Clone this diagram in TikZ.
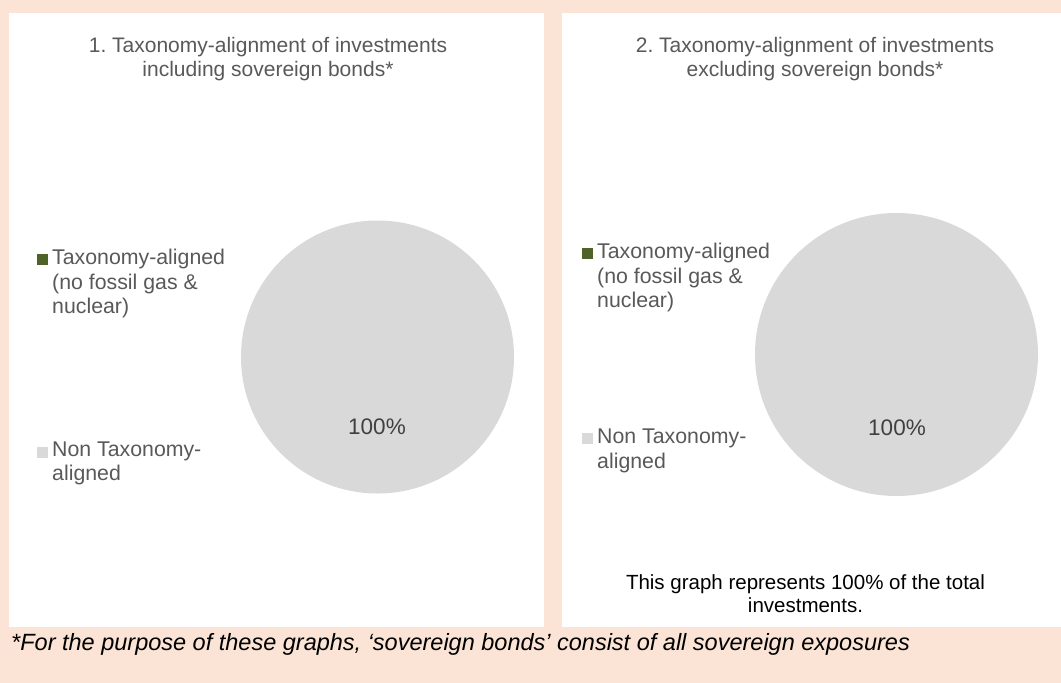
\documentclass[tikz,border=0pt]{standalone}
\usepackage{fontspec}
\setmainfont{Liberation Sans}
\frenchspacing
\definecolor{peach}{RGB}{251,228,213}
\definecolor{piegrey}{RGB}{217,217,217}
\definecolor{olive}{RGB}{79,98,40}
\definecolor{txtgrey}{RGB}{89,89,89}
\definecolor{lblgrey}{RGB}{64,64,64}
\tikzset{
  panel/.style={fill=white, draw=none},
  slice/.style={fill=piegrey, draw=none},
  ttl/.style={text=txtgrey, align=center, inner sep=0pt, font=\fontsize{21}{24}\selectfont},
  legtxt/.style={text=txtgrey, align=left, anchor=west, inner sep=0pt, font=\fontsize{21.3}{24.5}\selectfont},
  legmark/.style={minimum size=11pt, inner sep=0pt, draw=none},
  pct/.style={text=lblgrey, inner sep=0pt, font=\fontsize{22.5}{24}\selectfont},
  note/.style={text=black, align=center, inner sep=0pt, font=\fontsize{20.5}{23.5}\selectfont},
  foot/.style={text=black, anchor=west, inner sep=0pt, font=\fontsize{23.5}{26}\selectfont\itshape}
}
\begin{document}
\begin{tikzpicture}[x=1pt,y=-1pt]
\useasboundingbox (0,0) rectangle (1061,683);
\fill[peach] (0,0) rectangle (1061,683);
% panels
\fill[panel] (9,13) rectangle (544,627);
\fill[panel] (562,13) rectangle (1061,627);
% titles
\node[ttl] (t1) at (268,59) {1. Taxonomy-alignment of investments\\including sovereign bonds*};
\node[ttl] (t2) at (815,59) {2. Taxonomy-alignment of investments\\excluding sovereign bonds*};
% pies
\fill[slice] (377.5,357) circle (136.5);
\node[pct] (p1) at (377,427) {100\%};
\fill[slice] (896.5,354.5) circle (141.5);
\node[pct] (p2) at (897,428) {100\%};
% legend 1
\node[legmark, fill=olive] (m1a) at (42.5,259) {};
\node[legtxt] (l1a) at (52,283.5) {Taxonomy-aligned\\(no fossil gas \&\\nuclear)};
\node[legmark, fill=piegrey] (m1b) at (42.5,452.5) {};
\node[legtxt] (l1b) at (52,463.5) {Non Taxonomy-\\aligned};
% legend 2
\node[legmark, fill=olive] (m2a) at (587.5,253) {};
\node[legtxt] (l2a) at (597,277.5) {Taxonomy-aligned\\(no fossil gas \&\\nuclear)};
\node[legmark, fill=piegrey] (m2b) at (587.5,438.5) {};
\node[legtxt] (l2b) at (597,451) {Non Taxonomy-\\aligned};
% note
\node[note] (n1) at (805.5,593.5) {This graph represents 100\% of the total\\investments.};
% footnote
\node[foot] (fn) at (11,644) {*For the purpose of these graphs, ‘sovereign bonds’ consist of all sovereign exposures};
\end{tikzpicture}
\end{document}
